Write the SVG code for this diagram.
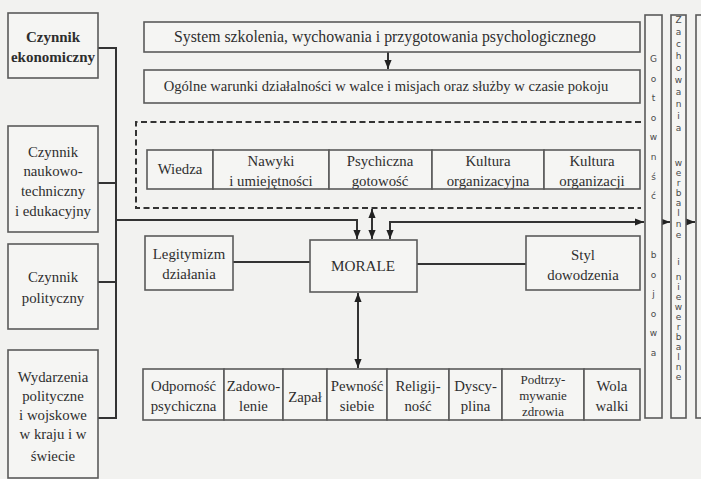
<svg xmlns="http://www.w3.org/2000/svg" width="701" height="479" viewBox="0 0 701 479">
<defs>
<style>
.bx{fill:#f5f5f3;stroke:#5a5a5a;stroke-width:1.6}
.t{font-family:"Liberation Serif","Times New Roman",serif;font-size:14.8px;fill:#2e2e2e;text-anchor:middle}
.tb{font-weight:bold;font-size:15px}
.v{font-family:"DejaVu Sans","Liberation Sans",sans-serif;font-size:9px;fill:#4a4a4a;text-anchor:middle}
.ln{fill:none;stroke:#333;stroke-width:2}
.dash{fill:none;stroke:#333;stroke-width:2;stroke-dasharray:6 3.5}
</style>
<marker id="ah" viewBox="0 0 10 8" refX="10" refY="4" markerWidth="9" markerHeight="8" markerUnits="userSpaceOnUse" orient="auto-start-reverse">
<path d="M0,0 L10,4 L0,8 z" fill="#222"/>
</marker>
</defs>
<rect width="701" height="479" fill="#f2f2f0"/>

<g id="connectors">
<path class="ln" d="M98,48 H116 V418 H98 M98,183 H116 M98,282 H116"/>
<path class="ln" d="M116,220 H357 V239" marker-end="url(#ah)"/>
<path class="ln" d="M372,209 V239" marker-start="url(#ah)" marker-end="url(#ah)"/>
<path class="ln" d="M390,239 V222 H644" marker-start="url(#ah)" marker-end="url(#ah)"/>
<path class="ln" d="M388,52 V69" marker-end="url(#ah)"/>
<path class="ln" d="M233,262 H310"/>
<path class="ln" d="M417,264 H526"/>
<path class="ln" d="M358,293 V368" marker-start="url(#ah)" marker-end="url(#ah)"/>
<path class="ln" d="M662,222 H670" marker-end="url(#ah)"/>
<path class="ln" d="M686,222 H695" marker-end="url(#ah)"/>
</g>

<g id="czynnik-ekonomiczny">
<rect class="bx" x="8" y="13" width="90" height="65"/>
<text class="t tb" x="53" y="42">Czynnik</text>
<text class="t tb" x="53" y="62">ekonomiczny</text>
</g>
<g id="czynnik-naukowo">
<rect class="bx" x="8" y="126" width="90" height="106"/>
<text class="t" x="53" y="157">Czynnik</text>
<text class="t" x="53" y="176">naukowo-</text>
<text class="t" x="53" y="196">techniczny</text>
<text class="t" x="53" y="216">i edukacyjny</text>
</g>
<g id="czynnik-polityczny">
<rect class="bx" x="8" y="244" width="90" height="85"/>
<text class="t" x="53" y="282">Czynnik</text>
<text class="t" x="53" y="303">polityczny</text>
</g>
<g id="wydarzenia">
<rect class="bx" x="8" y="350" width="90" height="128"/>
<text class="t" x="53" y="382">Wydarzenia</text>
<text class="t" x="53" y="401">polityczne</text>
<text class="t" x="53" y="420">i wojskowe</text>
<text class="t" x="53" y="439">w kraju i w</text>
<text class="t" x="53" y="461">świecie</text>
</g>

<g id="system">
<rect class="bx" x="144" y="22" width="496" height="30"/>
<text class="t" x="385" y="42" style="font-size:15.8px">System szkolenia, wychowania i przygotowania psychologicznego</text>
</g>
<g id="ogolne">
<rect class="bx" x="144" y="70" width="496" height="33"/>
<text class="t" x="386" y="91" style="font-size:14.6px">Ogólne warunki działalności w walce i misjach oraz służby w czasie pokoju</text>
</g>

<g id="grupa-wiedza">
<path class="dash" d="M641,122 H136 V208 H641"/>
<g id="wiedza"><rect class="bx" x="147" y="150" width="66" height="39"/><text class="t" x="180" y="174">Wiedza</text></g>
<g id="nawyki"><rect class="bx" x="213" y="150" width="116" height="39"/><text class="t" x="271" y="166">Nawyki</text><text class="t" x="271" y="186">i umiejętności</text></g>
<g id="psychiczna"><rect class="bx" x="329" y="150" width="103" height="39"/><text class="t" x="380" y="166">Psychiczna</text><text class="t" x="380" y="186">gotowość</text></g>
<g id="kultura-org1"><rect class="bx" x="432" y="150" width="112" height="39"/><text class="t" x="488" y="166">Kultura</text><text class="t" x="488" y="186">organizacyjna</text></g>
<g id="kultura-org2"><rect class="bx" x="544" y="150" width="96" height="39"/><text class="t" x="592" y="166">Kultura</text><text class="t" x="592" y="186">organizacji</text></g>
</g>

<g id="legitymizm">
<rect class="bx" x="145" y="236" width="88" height="54"/>
<text class="t" x="189" y="259">Legitymizm</text>
<text class="t" x="189" y="279">działania</text>
</g>
<g id="morale">
<rect class="bx" x="310" y="240" width="107" height="52"/>
<text class="t" x="363" y="271" style="font-size:15.2px">MORALE</text>
</g>
<g id="styl">
<rect class="bx" x="526" y="236" width="114" height="54"/>
<text class="t" x="583" y="260">Styl</text>
<text class="t" x="583" y="280">dowodzenia</text>
</g>

<g id="odpornosc"><rect class="bx" x="143" y="369" width="81" height="51"/><text class="t" x="183.5" y="391">Odporność</text><text class="t" x="183.5" y="411">psychiczna</text></g>
<g id="zadowolenie"><rect class="bx" x="224" y="369" width="59" height="51"/><text class="t" x="253.5" y="391">Zadowo-</text><text class="t" x="253.5" y="411">lenie</text></g>
<g id="zapal"><rect class="bx" x="283" y="369" width="44" height="51"/><text class="t" x="305" y="402">Zapał</text></g>
<g id="pewnosc"><rect class="bx" x="327" y="369" width="60" height="51"/><text class="t" x="357" y="391">Pewność</text><text class="t" x="357" y="411">siebie</text></g>
<g id="religijnosc"><rect class="bx" x="387" y="369" width="62" height="51"/><text class="t" x="418" y="391">Religij-</text><text class="t" x="418" y="411">ność</text></g>
<g id="dyscyplina"><rect class="bx" x="449" y="369" width="53" height="51"/><text class="t" x="475.5" y="391">Dyscy-</text><text class="t" x="475.5" y="411">plina</text></g>
<g id="podtrzymywanie"><rect class="bx" x="502" y="369" width="82" height="51"/><text class="t" x="543" y="384" style="font-size:13px">Podtrzy-</text><text class="t" x="543" y="400" style="font-size:13px">mywanie</text><text class="t" x="543" y="416" style="font-size:13px">zdrowia</text></g>
<g id="wola"><rect class="bx" x="584" y="369" width="56" height="51"/><text class="t" x="612" y="391">Wola</text><text class="t" x="612" y="411">walki</text></g>

<g id="gotowosc">
<rect class="bx" x="645" y="15" width="17" height="403"/>
<text class="v" x="653.5" y="62">G</text><text class="v" x="653.5" y="82">o</text><text class="v" x="653.5" y="101">t</text><text class="v" x="653.5" y="121">o</text><text class="v" x="653.5" y="140">w</text><text class="v" x="653.5" y="160">n</text><text class="v" x="653.5" y="180">ś</text><text class="v" x="653.5" y="199">ć</text>
<text class="v" x="653.5" y="258">b</text><text class="v" x="653.5" y="278">o</text><text class="v" x="653.5" y="297">j</text><text class="v" x="653.5" y="317">o</text><text class="v" x="653.5" y="336">w</text><text class="v" x="653.5" y="356">a</text>
</g>
<g id="zachowania">
<rect class="bx" x="671" y="15" width="15" height="403"/>
<text class="v" x="678.5" y="23">Z</text><text class="v" x="678.5" y="35">a</text><text class="v" x="678.5" y="47">c</text><text class="v" x="678.5" y="59">h</text><text class="v" x="678.5" y="71">o</text><text class="v" x="678.5" y="83">w</text><text class="v" x="678.5" y="95">a</text><text class="v" x="678.5" y="107">n</text><text class="v" x="678.5" y="119">i</text><text class="v" x="678.5" y="131">a</text>
<text class="v" x="678.5" y="166">w</text><text class="v" x="678.5" y="176">e</text><text class="v" x="678.5" y="186">r</text><text class="v" x="678.5" y="196">b</text><text class="v" x="678.5" y="206">a</text><text class="v" x="678.5" y="216">l</text><text class="v" x="678.5" y="227">n</text><text class="v" x="678.5" y="238">e</text>
<text class="v" x="678.5" y="265">i</text>
<text class="v" x="678.5" y="280">n</text><text class="v" x="678.5" y="290">i</text><text class="v" x="678.5" y="300">e</text><text class="v" x="678.5" y="310">w</text><text class="v" x="678.5" y="320">e</text><text class="v" x="678.5" y="330">r</text><text class="v" x="678.5" y="340">b</text><text class="v" x="678.5" y="350">a</text><text class="v" x="678.5" y="360">l</text><text class="v" x="678.5" y="370">n</text><text class="v" x="678.5" y="380">e</text>
</g>
<g id="kolumna-prawa">
<rect class="bx" x="696" y="15" width="20" height="403"/>
</g>
</svg>
